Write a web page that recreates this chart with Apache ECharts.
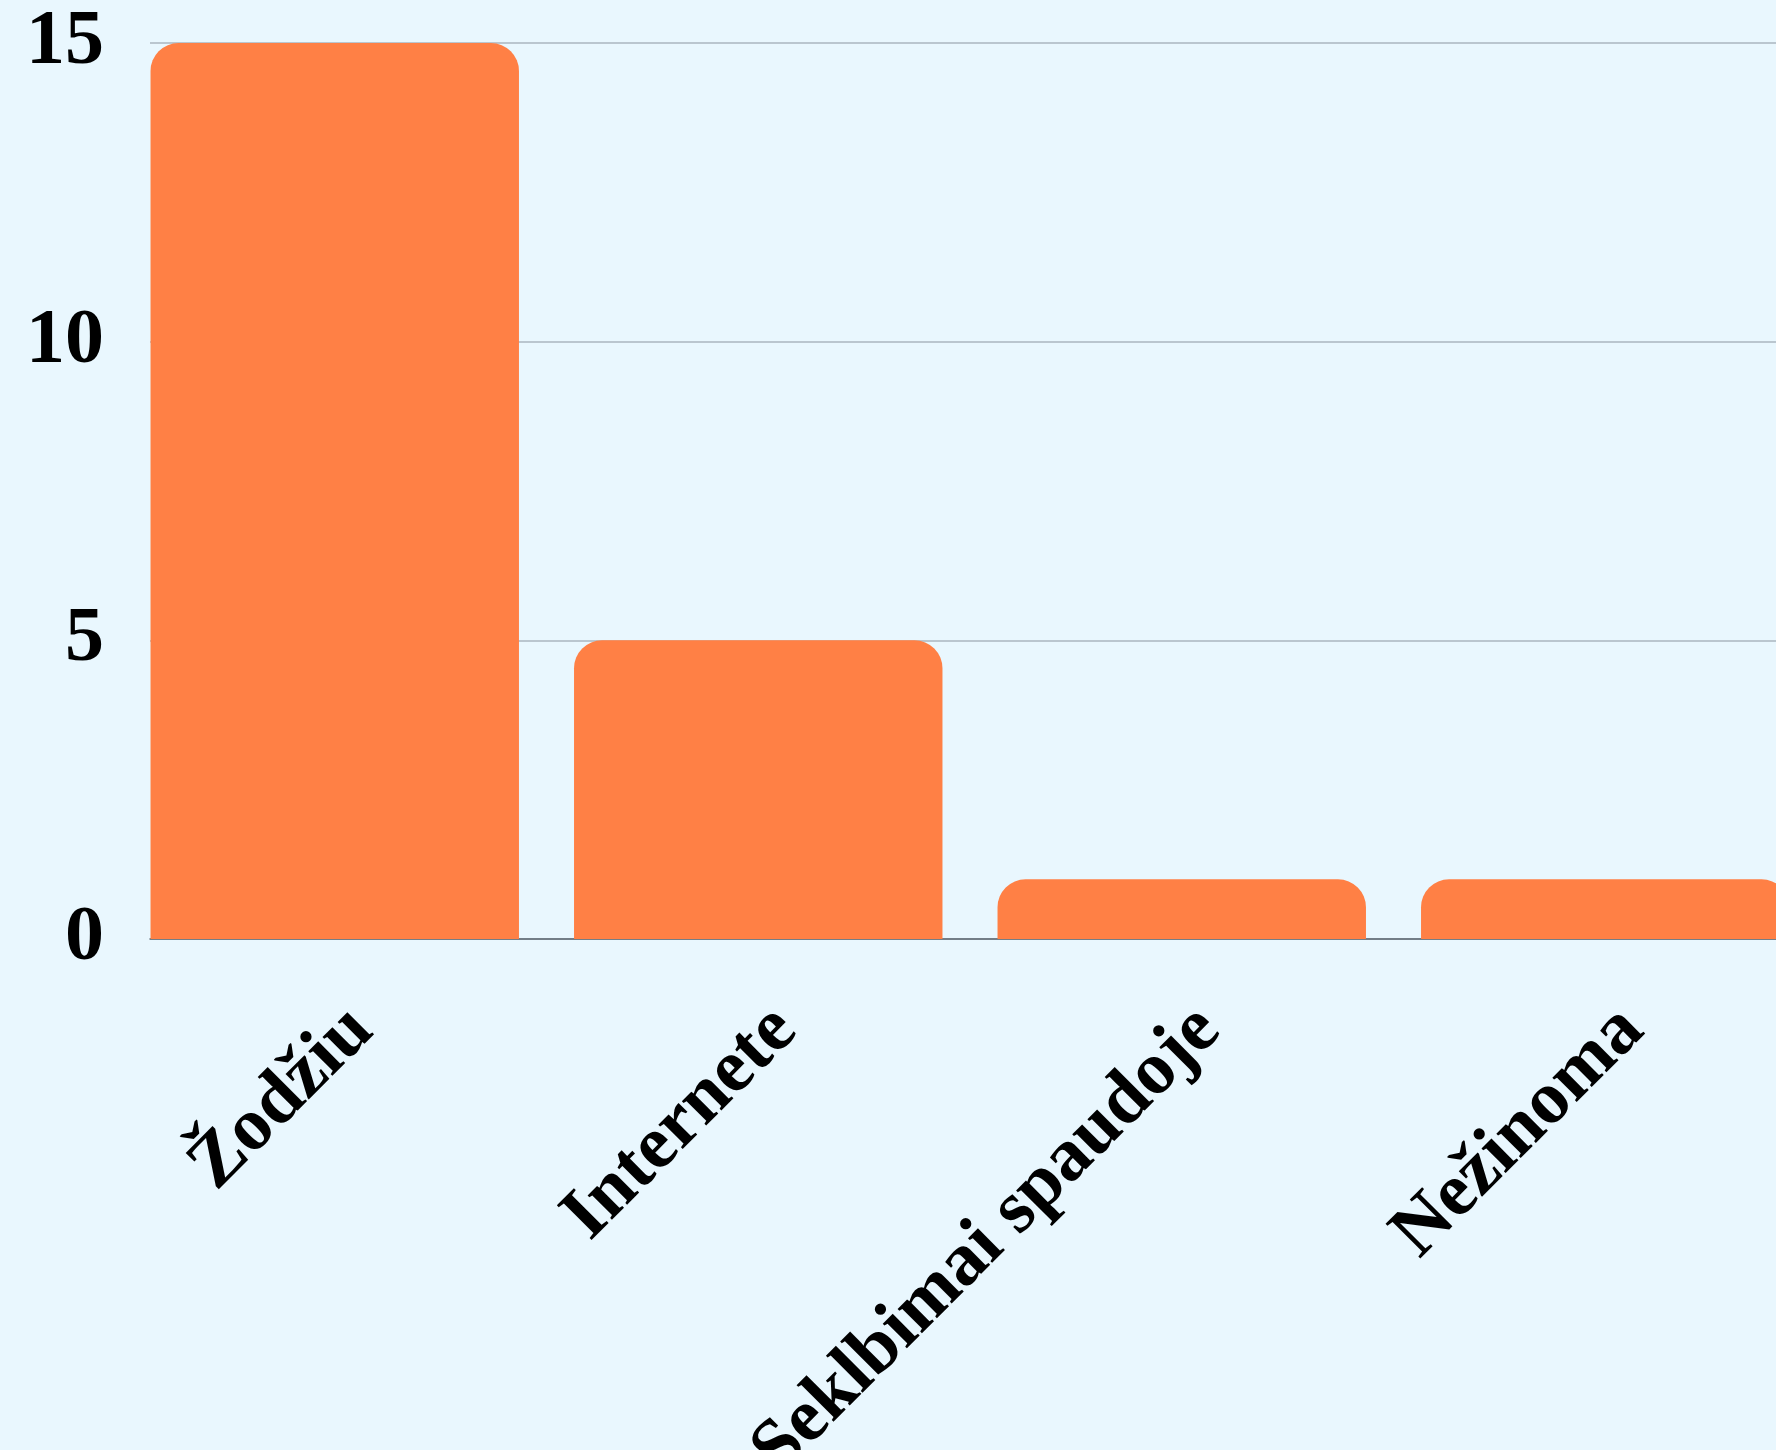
<!DOCTYPE html>
<html>
<head>
<meta charset="utf-8">
<script src="https://cdn.jsdelivr.net/npm/echarts@6/dist/echarts.min.js"></script>
<style>
html,body{margin:0;padding:0;background:#e9f7fe;}
#chart{width:1776px;height:1450px;}
</style>
</head>
<body>
<div id="chart"></div>
<script>
const categories = ["Žodžiu", "Internete", "Seklbimai spaudoje", "Nežinoma"];
const values = [15, 5, 1, 1];
const yTicks = [0, 5, 10, 15];

const yMin = yTicks[0], yMax = yTicks[yTicks.length - 1];
const chart = echarts.init(document.getElementById('chart'), null, {renderer: 'canvas'});
chart.setOption({
  backgroundColor: '#e9f7fe',
  animation: false,
  grid: [
    {left: 150, top: 43, width: 1694, height: 896, containLabel: false, outerBoundsMode: 'none'},
    {left: 123, top: 43, width: 1694, height: 896, containLabel: false, outerBoundsMode: 'none'}
  ],
  xAxis: [{
    type: 'category',
    gridIndex: 0,
    data: categories,
    axisTick: {show: false},
    axisLine: {lineStyle: {color: '#5c6770', width: 1.5}},
    axisLabel: {
      rotate: 45,
      margin: 80,
      interval: 0,
      color: '#000',
      fontFamily: 'Liberation Serif',
      fontWeight: 'bold',
      fontSize: 75
    }
  }, {
    type: 'category',
    gridIndex: 1,
    data: categories,
    show: false
  }],
  yAxis: [{
    type: 'value',
    gridIndex: 0,
    min: yMin,
    max: yMax,
    interval: 5,
    axisLine: {show: false},
    axisTick: {show: false},
    splitLine: {lineStyle: {color: '#aab6bf', width: 1.5}},
    axisLabel: {
      margin: 46,
      color: '#000',
      fontFamily: 'Liberation Serif',
      fontWeight: 'bold',
      fontSize: 78
    }
  }, {
    type: 'value',
    gridIndex: 1,
    min: yMin,
    max: yMax,
    interval: 5,
    show: false,
    splitLine: {show: false}
  }],
  series: [{
    type: 'bar',
    xAxisIndex: 1,
    yAxisIndex: 1,
    data: values,
    barCategoryGap: '13%',
    itemStyle: {color: '#ff8045', borderRadius: [28, 28, 0, 0]}
  }]
});
</script>
</body>
</html>
